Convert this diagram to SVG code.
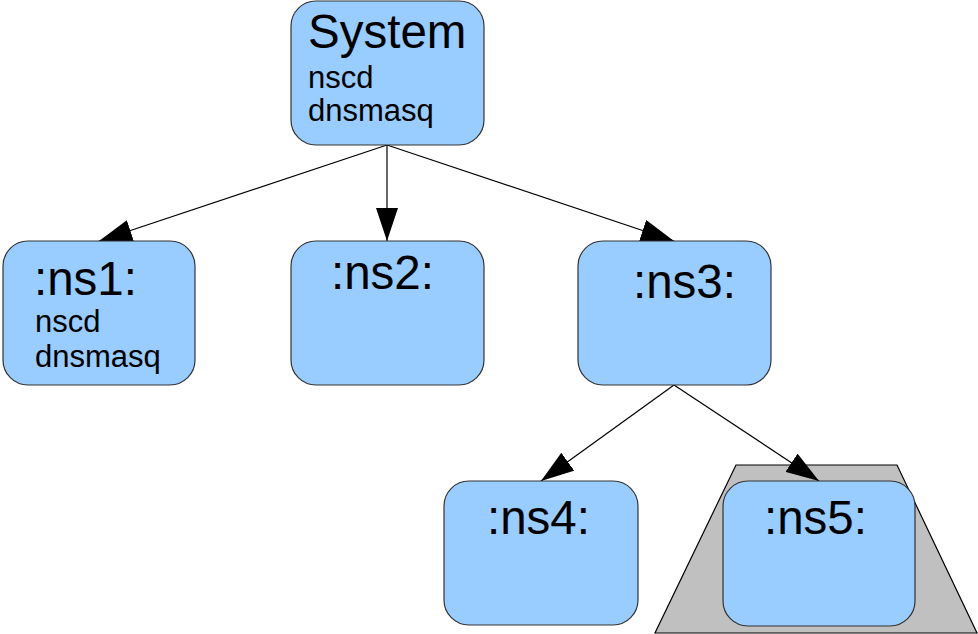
<svg xmlns="http://www.w3.org/2000/svg" width="978" height="634" viewBox="0 0 978 634">
<style>
.box{fill:#99ccff;stroke:#333333;stroke-width:1.2}
.t{font-family:"Liberation Sans",Arial,sans-serif;fill:#000}
.big{font-size:47.5px}
.small{font-size:31px}
.conn{stroke:#000;stroke-width:1.2;fill:none;marker-end:url(#arr)}
</style>
<defs>
<marker id="arr" markerUnits="userSpaceOnUse" markerWidth="33" markerHeight="22" viewBox="0 0 33 22" refX="33" refY="11" orient="auto">
<path d="M0,0 L33,11 L0,22 z" fill="#000"/>
</marker>
</defs>
<rect width="978" height="634" fill="#fff"/>
<polygon points="736,465 897,465 977,633 655,633" fill="#c0c0c0" stroke="#000" stroke-width="1.2"/>
<g id="connectors">
<line class="conn" x1="387" y1="145" x2="99" y2="241"/>
<line class="conn" x1="387" y1="145" x2="387" y2="241"/>
<line class="conn" x1="387" y1="145" x2="674" y2="241"/>
<line class="conn" x1="674" y1="385" x2="541" y2="481"/>
<line class="conn" x1="674" y1="385" x2="819" y2="481"/>
</g>
<g id="system">
<rect class="box" x="291" y="1" width="193" height="144" rx="25" ry="25"/>
<text class="t big" x="308" y="48">System</text>
<text class="t small" x="308" y="88">nscd</text>
<text class="t small" x="308" y="121">dnsmasq</text>
</g>
<g id="ns1">
<rect class="box" x="3" y="241" width="192" height="144" rx="25" ry="25"/>
<text class="t big" x="34" y="295">:ns1:</text>
<text class="t small" x="35" y="332">nscd</text>
<text class="t small" x="35" y="367">dnsmasq</text>
</g>
<g id="ns2">
<rect class="box" x="291" y="241" width="193" height="144" rx="25" ry="25"/>
<text class="t big" x="331" y="289">:ns2:</text>
</g>
<g id="ns3">
<rect class="box" x="578" y="241" width="193" height="144" rx="25" ry="25"/>
<text class="t big" x="633" y="298">:ns3:</text>
</g>
<g id="ns4">
<rect class="box" x="444" y="481" width="194" height="144" rx="25" ry="25"/>
<text class="t big" x="487" y="534">:ns4:</text>
</g>
<g id="ns5">
<rect class="box" x="723" y="481" width="192" height="145" rx="25" ry="25"/>
<text class="t big" x="764" y="534">:ns5:</text>
</g>
</svg>
